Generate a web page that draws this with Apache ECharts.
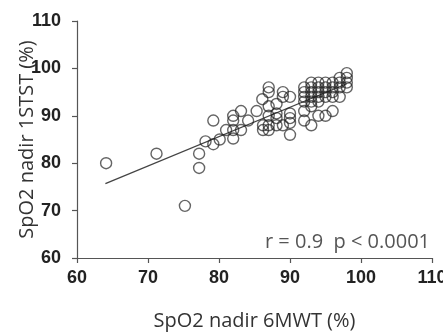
<!DOCTYPE html>
<html><head><meta charset="utf-8">
<script src="https://cdn.jsdelivr.net/npm/echarts@6/dist/echarts.min.js"></script>
<style>html,body{margin:0;padding:0;background:#fff}#c{width:443px;height:332px}</style>
</head><body><div id="c"></div>
<script>
var xValues = [64.1,71.2,75.2,77.2,77.2,78.1,79.2,79.2,80.1,81,82,82,82,82,
  83.1,83.1,84.1,85.3,86.1,86.2,86.2,87,87,87,87,87,87,88.1,88.1,88.1,88.1,89,89,89,
  90,90,90,90,90,
  92,92,92,92,92,92,
  93,93,93,93,93,93,93,
  94,94,94,94,94,94,
  95,95,95,95,95,
  96,96,96,96,96,
  97,97,97,97,
  98,98,98,98];
var yValues = [80,82,71,82,79,84.6,89,84,85,87,90,89,87,85.2,
  91,87,89,91,93.5,88,87,96,95,92,90,88,87,92.5,90.5,89.5,88,95,94,88,
  94,90.5,89.5,88.5,86,
  96,95,94,93,91,89,
  97,96,95,94,93,92,88,
  97,96,95,94,93,90,
  97,96,95,94,90,
  97,96,95,94,91,
  98,97,96,94,
  99,98,97,96];
var xTicks = [60,70,80,90,100,110];
var yTicks = [60,70,80,90,100,110];
var fitSlope = 0.62, fitIntercept = 36.0;
var fitRange = [64, 98];
var statText = 'r = 0.9  p < 0.0001';
var xTitle = 'SpO2 nadir 6MWT (%)';
var yTitle = 'SpO2 nadir 1STST (%)';

var pts = xValues.map(function(x,i){return [x,yValues[i]];});
var fit = fitRange.map(function(x){return [x, fitIntercept + fitSlope*x];});
var chart = echarts.init(document.getElementById('c'));
var axisCommon = {
  min:60,max:110,interval:10,
  axisLine:{lineStyle:{color:'#555',width:1.2}},
  axisTick:{show:true,inside:false,length:5,lineStyle:{color:'#555',width:1.2}},
  splitLine:{show:false},
  axisLabel:{color:'#222',fontFamily:'Liberation Sans',fontWeight:'bold',fontSize:18}
};
chart.setOption({
  animation:false,
  grid:{left:77,right:11,top:21,bottom:74,containLabel:false,outerBoundsMode:'none'},
  title:{text:statText,right:13,top:232,padding:0,textStyle:{color:'#555',fontFamily:'Open Sans',fontWeight:'normal',fontSize:20}},
  xAxis:Object.assign({},axisCommon,{type:'value',name:xTitle,nameLocation:'middle',nameGap:53,nameMoveOverlap:false,
    nameTextStyle:{color:'#333',fontFamily:'Open Sans',fontSize:20},
    axisLabel:Object.assign({},axisCommon.axisLabel,{margin:11})}),
  yAxis:Object.assign({},axisCommon,{type:'value',name:yTitle,nameLocation:'middle',nameGap:40,nameMoveOverlap:false,
    nameTextStyle:{color:'#333',fontFamily:'Open Sans',fontSize:20},
    axisLabel:Object.assign({},axisCommon.axisLabel,{margin:16})}),
  series:[
    {type:'scatter',data:pts,symbol:'circle',symbolSize:11,
     itemStyle:{color:'rgba(0,0,0,0)',borderColor:'rgba(30,30,30,0.85)',borderWidth:1.4}},
    {type:'line',data:fit,symbol:'none',lineStyle:{color:'#444',width:1.3},z:1}
  ]
});
</script></body></html>
